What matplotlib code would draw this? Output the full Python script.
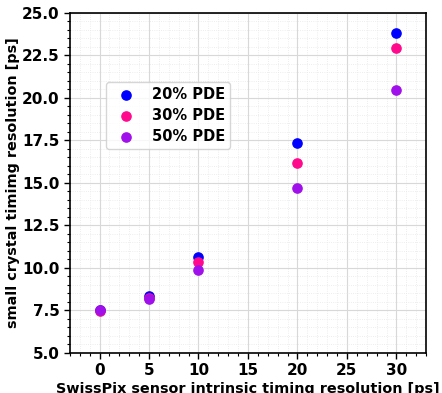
import numpy as np
import matplotlib.pyplot as plt
from matplotlib.ticker import MultipleLocator

# SwissPix intrinsic timing resolution [ps]
sensor_res = [0, 5, 10, 20, 30]

# small crystal timing resolution [ps] per PDE
res_pde20 = [7.50, 8.37, 10.67, 17.34, 23.80]
res_pde30 = [7.45, 8.25, 10.37, 16.20, 22.96]
res_pde50 = [7.55, 8.16, 9.90, 14.72, 20.47]

labels = ['20% PDE', '30% PDE', '50% PDE']
colors = ['#0000ff', '#ff0a8c', '#a010ea']

fig = plt.figure(figsize=(4.42, 3.93), dpi=100)
ax = fig.add_axes([0.158, 0.102, 0.806, 0.865])

for y, lab, c in zip([res_pde20, res_pde30, res_pde50], labels, colors):
    ax.scatter(sensor_res, y, s=44, color=c, label=lab, zorder=3)

ax.set_xlim(-3, 33)
ax.set_ylim(5, 25)
ax.xaxis.set_major_locator(MultipleLocator(5))
ax.xaxis.set_minor_locator(MultipleLocator(1))
ax.yaxis.set_major_locator(MultipleLocator(2.5))
ax.yaxis.set_minor_locator(MultipleLocator(0.5))

ax.grid(which='major', color='#d8d8d8', linewidth=0.8)
ax.grid(which='minor', color='#e8e8e8', linestyle=':', linewidth=0.6)
ax.set_axisbelow(True)
for sp in ax.spines.values():
    sp.set_linewidth(1.2)

ax.tick_params(which='major', length=4, width=1, labelsize=11)
ax.tick_params(which='minor', length=2, width=0.8)
for lab in ax.get_xticklabels() + ax.get_yticklabels():
    lab.set_fontweight('bold')

ax.set_xlabel('SwissPix sensor intrinsic timing resolution [ps]', fontsize=10.4, fontweight='bold', labelpad=3)
ax.set_ylabel('small crystal timimg resolution [ps]', fontsize=10.4, fontweight='bold', labelpad=1)

ax.legend(loc='upper left', bbox_to_anchor=(0.101, 0.797), borderaxespad=0,
          prop={'weight': 'bold', 'size': 10.5}, handletextpad=0.8, borderpad=0.35,
          labelspacing=0.4)

plt.savefig('out.png', dpi=100)
